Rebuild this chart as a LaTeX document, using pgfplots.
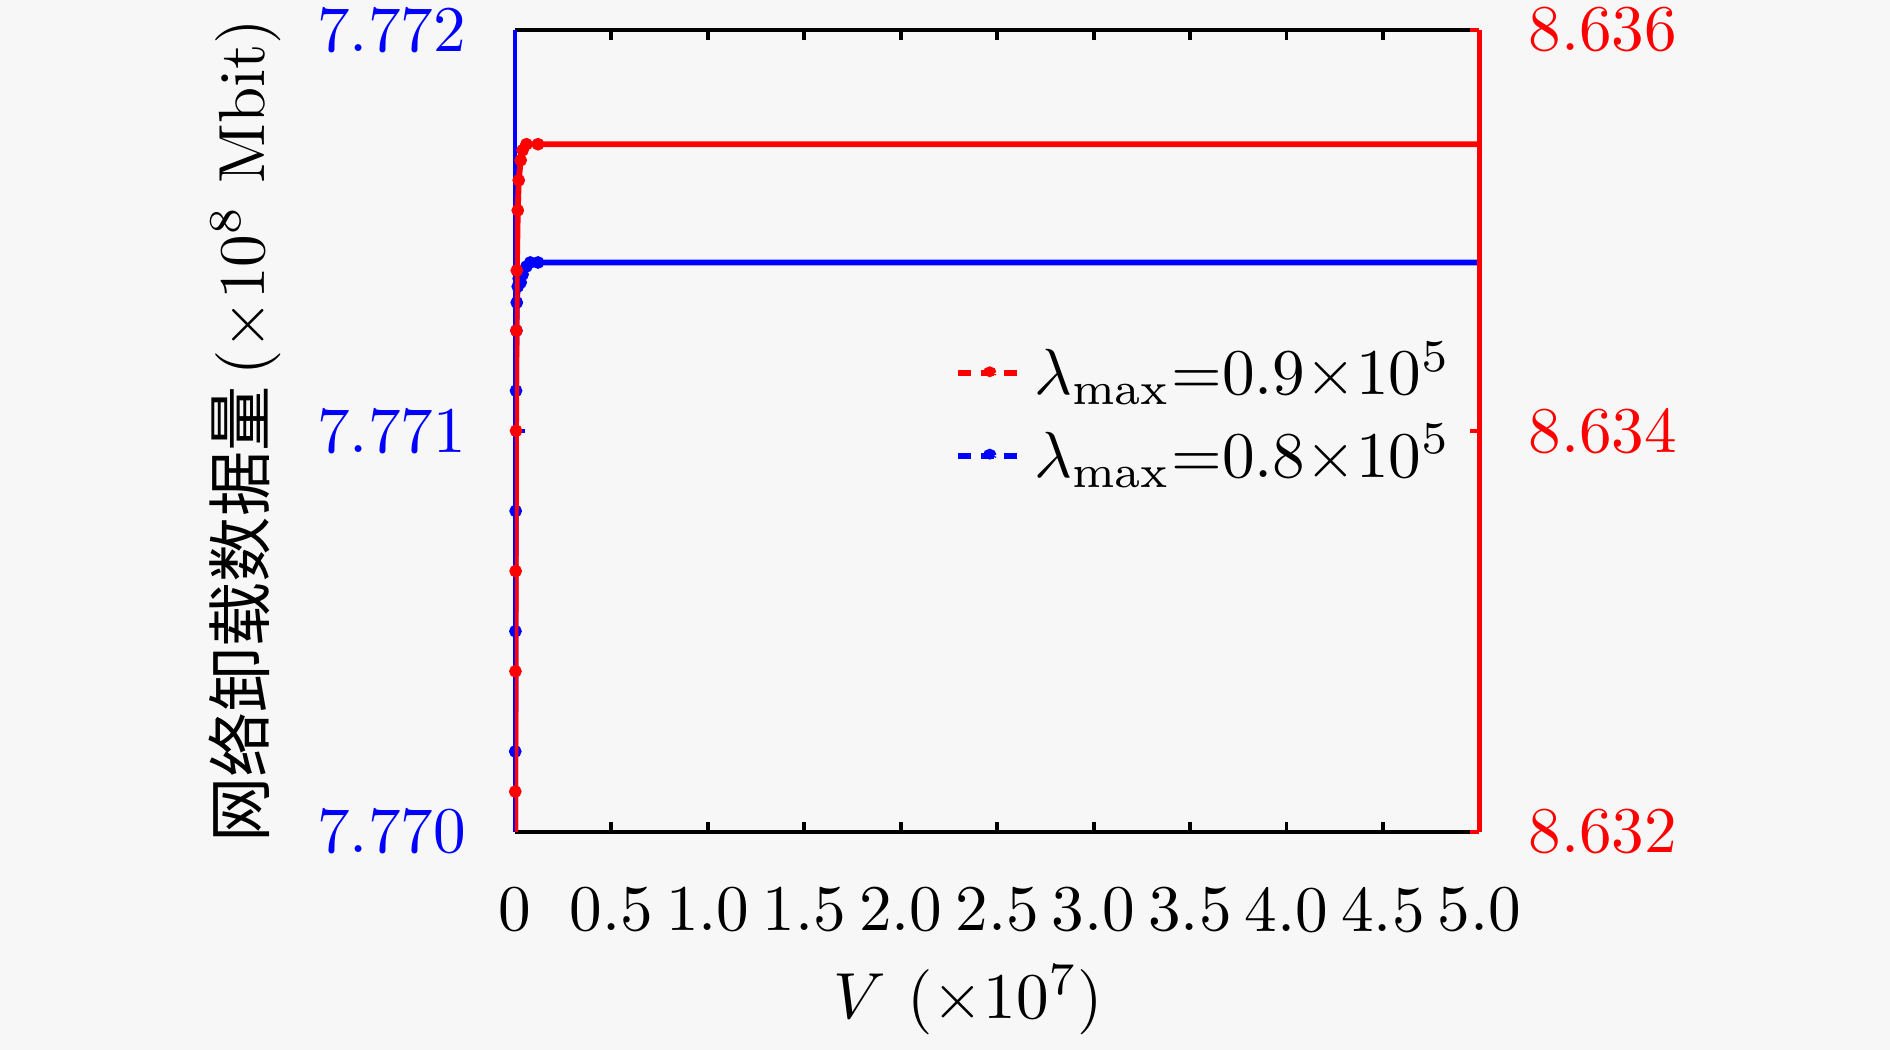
\documentclass[border=0pt]{standalone}
\usepackage{fontspec}
\newfontfamily\cjk{Noto Sans CJK SC}
\usepackage{pgfplots}
\usepackage{pgfplotstable}
\pgfplotsset{compat=1.18}
\usetikzlibrary{backgrounds}

% lambda_max = 0.8e5, left axis
\pgfplotstableread{
x y
0.001 7.7699
0.002 7.7702
0.003 7.7705
0.004 7.7708
0.006 7.7711
0.008 7.77125
0.010 7.77132
0.015 7.77136
0.020 7.77138
0.030 7.77137
0.040 7.77139
0.060 7.77141
0.080 7.77142
0.12 7.77142
0.25 7.77142
0.50 7.77142
0.75 7.77142
1.00 7.77142
1.25 7.77142
1.50 7.77142
1.75 7.77142
2.00 7.77142
2.25 7.77142
2.50 7.77142
2.75 7.77142
3.00 7.77142
3.25 7.77142
3.50 7.77142
3.75 7.77142
4.00 7.77142
4.25 7.77142
4.50 7.77142
4.75 7.77142
5.00 7.77142
}\lowdata

% lambda_max = 0.9e5, right axis
\pgfplotstableread{
x y
0.001 8.6315
0.002 8.6322
0.003 8.6328
0.004 8.6333
0.006 8.6340
0.008 8.6345
0.010 8.6348
0.015 8.6351
0.020 8.63525
0.030 8.63535
0.040 8.63540
0.060 8.63543
0.12 8.63543
0.25 8.63543
0.50 8.63543
0.75 8.63543
1.00 8.63543
1.25 8.63543
1.50 8.63543
1.75 8.63543
2.00 8.63543
2.25 8.63543
2.50 8.63543
2.75 8.63543
3.00 8.63543
3.25 8.63543
3.50 8.63543
3.75 8.63543
4.00 8.63543
4.25 8.63543
4.50 8.63543
4.75 8.63543
5.00 8.63543
}\highdata

\pgfplotsset{
    twin/.style={
        width=148pt, height=123pt,
        scale only axis,
        xmin=0, xmax=5,
        major tick length=1.5pt,
        every tick/.style={line width=0.6pt},
        scaled y ticks=false,
        legend image code/.code={
            \draw[#1,dash pattern=on 2pt off 1.5pt,mark repeat=2,mark phase=2,mark size=0.6pt]
                plot coordinates {(0cm,0cm) (0.17cm,0cm) (0.34cm,0cm)};
        },
    },
}

\begin{document}
\begin{tikzpicture}
\begin{axis}[
    twin,
    axis x line*=box,
    axis y line*=left,
    x axis line style={black, line width=0.6pt},
    y axis line style={blue, line width=0.7pt},
    ymin=7.770, ymax=7.772,
    xtick={0,0.5,1,1.5,2,2.5,3,3.5,4,4.5,5},
    xticklabels={0,0.5,1.0,1.5,2.0,2.5,3.0,3.5,4.0,4.5,5.0},
    xtick pos=both,
    xticklabel pos=left,
    xticklabel style={yshift=-5pt},
    ytick={7.770,7.771,7.772},
    yticklabels={7.770,7.771,7.772},
    yticklabel style={blue, xshift=-4pt},
    y tick style={blue},
    xlabel={$V$ ($\times 10^7$)},
    xlabel style={at={(axis description cs:0.47,-0.21)}, anchor=center},
    ylabel={{\cjk 网络卸载数据量}\,($\times 10^8$ Mbit)},
    ylabel style={at={(axis description cs:-0.28,0.5)}, anchor=center},
]
\addplot[blue, line width=0.9pt, mark=*, mark size=0.5pt, mark indices={1,...,13}] table[x=x, y=y] {\lowdata};
\coordinate (bl) at (rel axis cs:0,0);
\coordinate (tr) at (rel axis cs:1,1);
\end{axis}
\begin{axis}[
    twin,
    axis x line=none,
    axis y line*=right,
    y axis line style={red, line width=0.7pt},
    ymin=8.632, ymax=8.636,
    ytick={8.632,8.634,8.636},
    yticklabels={8.632,8.634,8.636},
    yticklabel style={red, xshift=4pt},
    y tick style={red},
    legend style={
        at={(0.435,0.645)}, anchor=north west,
        draw=none, fill=none,
        row sep=-1pt,
        nodes={inner xsep=1.5pt},
        font=\normalsize,
    },
    legend cell align=left,
]
\addplot[red, line width=0.9pt, mark=*, mark size=0.5pt, mark indices={1,...,12}, forget plot] table[x=x, y=y] {\highdata};
\addlegendimage{red, line width=0.9pt, mark=*, mark size=0.5pt}
\addlegendentry{$\lambda_{\max}{=}0.9{\times}10^5$}
\addlegendimage{blue, line width=0.9pt, mark=*, mark size=0.5pt}
\addlegendentry{$\lambda_{\max}{=}0.8{\times}10^5$}
\end{axis}
\pgfresetboundingbox
\path ([shift={(-79pt,-33.5pt)}]bl) rectangle ([shift={(63pt,4.6pt)}]tr);
\begin{scope}[on background layer]
\fill[black!3] ([shift={(-79pt,-33.5pt)}]bl) rectangle ([shift={(63pt,4.6pt)}]tr);
\end{scope}
\end{tikzpicture}
\end{document}
